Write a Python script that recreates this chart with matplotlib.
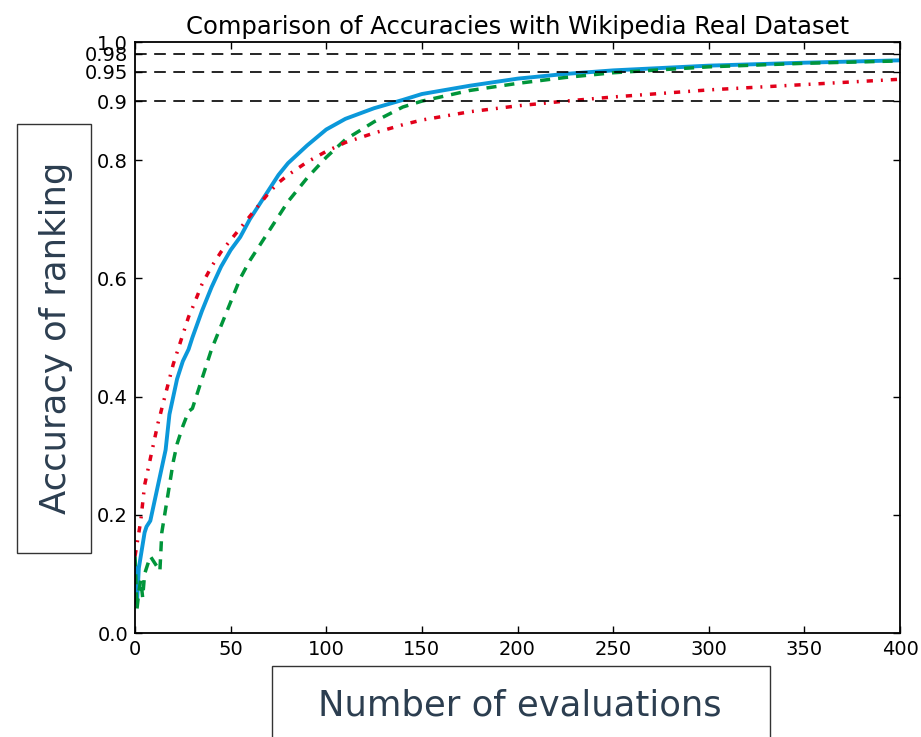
import matplotlib
matplotlib.use("Agg")
import matplotlib.pyplot as plt
from matplotlib.patches import Rectangle

# evaluations
evals = [0, 1, 2, 3, 4, 5, 6, 7, 8, 10, 12, 13, 14, 16, 18, 20, 22, 25, 28, 30,
         35, 40, 45, 50, 55, 60, 65, 70, 75, 80, 90, 100, 110, 125, 140, 150,
         175, 200, 225, 250, 275, 300, 350, 400]

# accuracy curves
acc_blue = [0.12, 0.05, 0.11, 0.13, 0.15, 0.17, 0.18, 0.185, 0.19, 0.22, 0.25, 0.265, 0.28, 0.31,
            0.37, 0.40, 0.43, 0.46, 0.48, 0.50, 0.545, 0.585, 0.62, 0.648, 0.67, 0.70,
            0.725, 0.75, 0.775, 0.795, 0.825, 0.852, 0.87, 0.888, 0.902, 0.912,
            0.926, 0.938, 0.946, 0.952, 0.956, 0.96, 0.965, 0.969]
acc_green = [0.13, 0.04, 0.07, 0.09, 0.06, 0.10, 0.11, 0.12, 0.13, 0.12, 0.11, 0.105, 0.17, 0.21,
             0.25, 0.29, 0.32, 0.35, 0.375, 0.38, 0.43, 0.48, 0.52, 0.56, 0.60, 0.63,
             0.655, 0.68, 0.705, 0.73, 0.77, 0.805, 0.835, 0.865, 0.89, 0.90,
             0.918, 0.93, 0.94, 0.948, 0.953, 0.958, 0.964, 0.968]
acc_red = [0.13, 0.15, 0.17, 0.19, 0.22, 0.25, 0.265, 0.28, 0.295, 0.325, 0.355, 0.367, 0.38, 0.405,
           0.43, 0.455, 0.475, 0.505, 0.535, 0.55, 0.59, 0.62, 0.645, 0.665, 0.685, 0.705,
           0.725, 0.745, 0.762, 0.775, 0.797, 0.815, 0.83, 0.846, 0.86, 0.868,
           0.882, 0.892, 0.90, 0.907, 0.913, 0.919, 0.928, 0.937]

thresholds = [0.9, 0.95, 0.98]
yticks = [0.0, 0.2, 0.4, 0.6, 0.8, 0.9, 0.95, 0.98, 1.0]
ytick_labels = ["0.0", "0.2", "0.4", "0.6", "0.8", "0.9", "0.95", "0.98", "1.0"]
xticks = [0, 50, 100, 150, 200, 250, 300, 350, 400]

fig = plt.figure(figsize=(9.21, 7.37), dpi=100)
ax = fig.add_axes([0.1466, 0.141, 0.8306, 0.802])

ax.plot(evals, acc_blue, color="#0b98da", lw=2.8)
ax.plot(evals, acc_green, color="#00953a", lw=2.5, linestyle="--", dashes=(2.9, 2.3))
ax.plot(evals, acc_red, color="#e2001a", lw=2.5, linestyle="-.", dashes=(1.8, 2.3, 0.55, 2.3))

for t in thresholds:
    ax.axhline(t, color="k", lw=1.2, linestyle="--", dashes=(7, 4.5))

ax.set_xlim(0, 400)
ax.set_ylim(0, 1.0)
ax.set_xticks(xticks)
ax.set_yticks(yticks)
ax.set_yticklabels(ytick_labels)
ax.tick_params(direction="in", top=True, right=True, length=5, width=1, labelsize=14, pad=5)
for s in ax.spines.values():
    s.set_linewidth(1.3)

ax.set_title("Comparison of Accuracies with Wikipedia Real Dataset", fontsize=17.5, pad=6)

# boxed axis labels
lab_col = "#2c3e50"
fig.patches.append(Rectangle((0.01846, 0.2497), 0.0803, 0.582, transform=fig.transFigure,
                             facecolor="white", edgecolor="#333333", lw=1.0, zorder=0))
fig.text(0.0608, 0.5414, "Accuracy of ranking", rotation=90, fontsize=25.5, color=lab_col,
         ha="center", va="center")
fig.patches.append(Rectangle((0.2953, -0.05), 0.5407, 0.1463, transform=fig.transFigure,
                             facecolor="white", edgecolor="#333333", lw=1.0, zorder=0))
fig.text(0.5646, 0.0285, "Number of evaluations", fontsize=25.5, color=lab_col,
         ha="center", va="baseline")

fig.savefig("out.png", dpi=100)
